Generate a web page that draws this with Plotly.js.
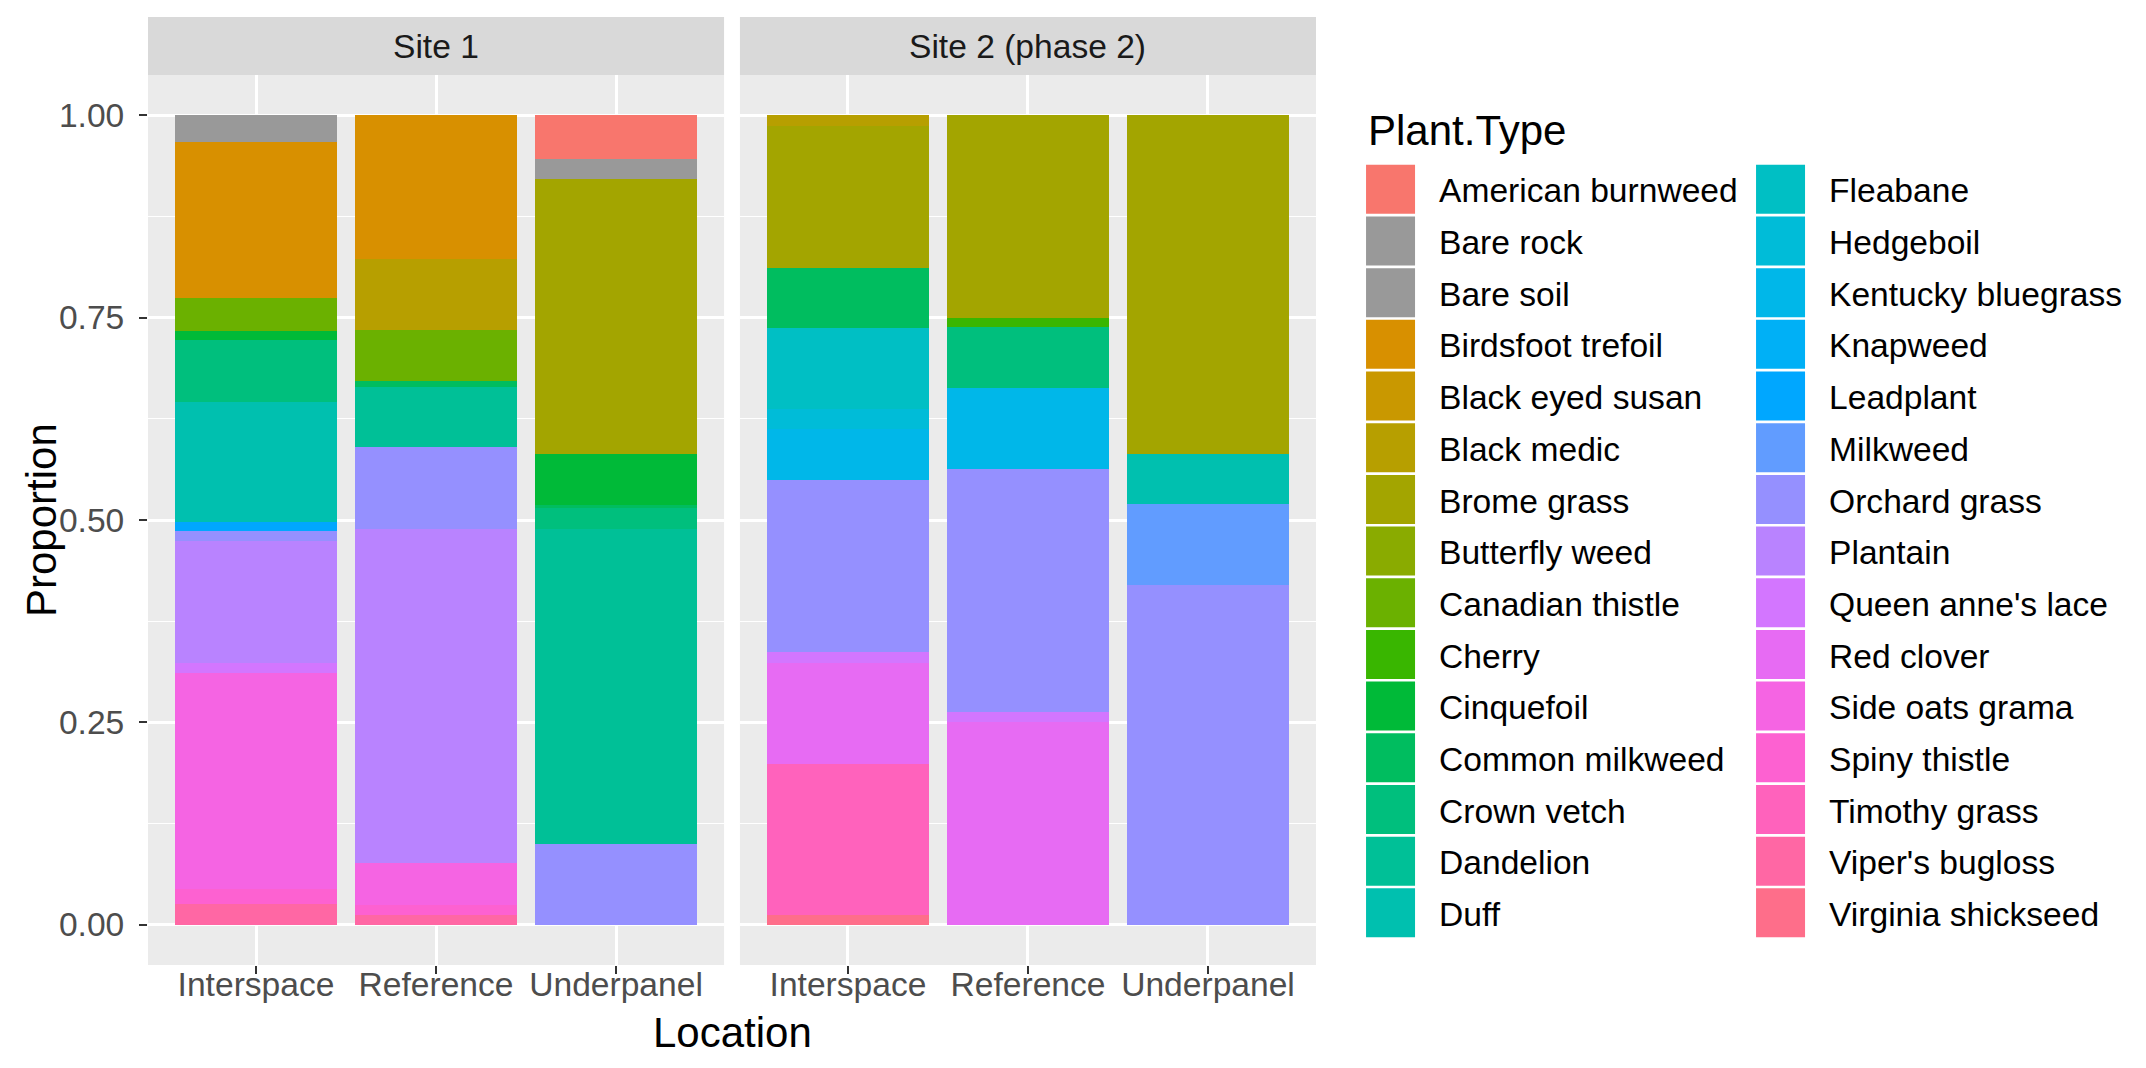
<!DOCTYPE html>
<html>
<head>
<meta charset="utf-8">
<script src="https://cdn.plot.ly/plotly-3.0.1.min.js"></script>
<style>
  html, body { margin: 0; padding: 0; background: #ffffff; }
  #chart { width: 2146px; height: 1068px; }
</style>
</head>
<body>
<div id="chart"></div>
<script>
// Plant types in legend order (first level is stacked on top)
const plantTypes = [
  'American burnweed', 'Bare rock', 'Bare soil', 'Birdsfoot trefoil', 'Black eyed susan',
  'Black medic', 'Brome grass', 'Butterfly weed', 'Canadian thistle', 'Cherry',
  'Cinquefoil', 'Common milkweed', 'Crown vetch', 'Dandelion', 'Duff',
  'Fleabane', 'Hedgeboil', 'Kentucky bluegrass', 'Knapweed', 'Leadplant',
  'Milkweed', 'Orchard grass', 'Plantain', "Queen anne's lace", 'Red clover',
  'Side oats grama', 'Spiny thistle', 'Timothy grass', "Viper's bugloss", 'Virginia shickseed'
];
const locations = ['Interspace', 'Reference', 'Underpanel'];
const sites = ['Site 1', 'Site 2 (phase 2)'];
const yTickVals = [0, 0.25, 0.5, 0.75, 1];
const yTickText = ['0.00', '0.25', '0.50', '0.75', '1.00'];
const greyTypes = ['Bare rock', 'Bare soil'];

// Proportion of each plant type (same order as plantTypes)
const site1Interspace = [0, 0.023, 0.010, 0.192, 0, 0, 0, 0, 0.042, 0,
  0.011, 0, 0.076, 0, 0.148, 0, 0, 0, 0, 0.012,
  0, 0.012, 0.151, 0.012, 0, 0.267, 0.019, 0, 0.025, 0];
const site1Reference = [0, 0, 0, 0.177, 0, 0.088, 0, 0, 0.063, 0,
  0, 0.008, 0, 0.074, 0, 0, 0, 0, 0, 0,
  0, 0.101, 0.413, 0, 0, 0.052, 0.012, 0, 0.012, 0];
const site1Underpanel = [0.054, 0, 0.025, 0, 0, 0, 0.340, 0, 0, 0,
  0.062, 0.004, 0.026, 0.389, 0, 0, 0, 0, 0, 0,
  0, 0.100, 0, 0, 0, 0, 0, 0, 0, 0];
const site2Interspace = [0, 0, 0, 0, 0, 0.013, 0.175, 0, 0, 0,
  0, 0.075, 0, 0, 0, 0.100, 0.025, 0.062, 0, 0,
  0, 0.213, 0, 0.014, 0.124, 0, 0, 0.187, 0, 0.012];
const site2Reference = [0, 0, 0, 0, 0, 0, 0.250, 0, 0, 0.012,
  0, 0, 0.075, 0, 0, 0, 0, 0.100, 0, 0,
  0, 0.300, 0, 0.013, 0.250, 0, 0, 0, 0, 0];
const site2Underpanel = [0, 0, 0, 0, 0, 0, 0.418, 0, 0, 0,
  0, 0, 0, 0, 0.062, 0, 0, 0, 0, 0,
  0.100, 0.420, 0, 0, 0, 0, 0, 0, 0, 0];

// ggplot2-style evenly spaced HCL hues (l = 65, c = 100)
function hclToHex(h, c, l) {
  const hr = h * Math.PI / 180;
  const U = c * Math.cos(hr), V = c * Math.sin(hr);
  const Y = 100 * (l > 7.999592 ? Math.pow((l + 16) / 116, 3) : l / 903.3);
  const u = U / (13 * l) + 0.1978398;
  const v = V / (13 * l) + 0.4683363;
  const X = 9 * Y * u / (4 * v);
  const Z = -X / 3 - 5 * Y + 3 * Y / v;
  const g = x => (x > 0.00304 ? 1.055 * Math.pow(x, 1 / 2.4) - 0.055 : 12.92 * x);
  const rgb = [
    g((3.240479 * X - 1.537150 * Y - 0.498535 * Z) / 100),
    g((-0.969256 * X + 1.875992 * Y + 0.041556 * Z) / 100),
    g((0.055648 * X - 0.204043 * Y + 1.057311 * Z) / 100)
  ];
  return '#' + rgb.map(x => {
    const k = Math.round(255 * Math.min(1, Math.max(0, x)));
    return k.toString(16).padStart(2, '0');
  }).join('');
}
const n = plantTypes.length;
const plantColors = plantTypes.map((name, i) =>
  greyTypes.includes(name) ? '#999999' : hclToHex(15 + 360 * i / n, 100, 65));

const siteValues = [
  [site1Interspace, site1Reference, site1Underpanel],
  [site2Interspace, site2Reference, site2Underpanel]
];

// Stack bottom-up: the last plant type is drawn first
const traces = [];
for (let i = n - 1; i >= 0; i--) {
  siteValues.forEach((bars, s) => {
    traces.push({
      type: 'bar',
      name: plantTypes[i],
      x: locations,
      y: bars.map(b => b[i]),
      xaxis: s === 0 ? 'x' : 'x2',
      yaxis: s === 0 ? 'y' : 'y2',
      marker: { color: plantColors[i], line: { width: 0 } },
      legendgroup: plantTypes[i],
      legend: i < 15 ? 'legend' : 'legend2',
      legendrank: i + 1,
      showlegend: s === 0,
      hoverinfo: 'name+y'
    });
  });
}

const tickFont = { family: 'Liberation Sans, Arial, sans-serif', size: 33.6, color: '#4D4D4D' };
const titleFont = { family: 'Liberation Sans, Arial, sans-serif', size: 42, color: '#000000' };

const xAxisBase = {
  type: 'category',
  categoryorder: 'array',
  categoryarray: locations,
  range: [-0.6, 2.6],
  showgrid: true, gridcolor: '#FFFFFF', gridwidth: 2.5,
  zeroline: false, showline: false,
  ticks: 'outside', ticklen: 8, tickwidth: 2.2, tickcolor: '#333333',
  ticklabelstandoff: -18,
  tickfont: tickFont,
  fixedrange: true
};
const yAxisBase = {
  range: [-0.05, 1.05],
  tickmode: 'array', tickvals: yTickVals, ticktext: yTickText,
  showgrid: true, gridcolor: '#FFFFFF', gridwidth: 2.5,
  minor: { tick0: 0, dtick: 0.125, showgrid: true, gridcolor: '#FFFFFF', gridwidth: 1.2, ticks: '' },
  zeroline: false, showline: false,
  tickfont: tickFont,
  fixedrange: true
};

const stripH = 58 / 890;
const shapes = [];
const annotations = [];
['x', 'x2'].forEach((ax, s) => {
  shapes.push({
    type: 'rect', xref: ax + ' domain', yref: 'paper',
    x0: 0, x1: 1, y0: 1, y1: 1 + stripH,
    fillcolor: '#D9D9D9', line: { width: 0 }, layer: 'below'
  });
  annotations.push({
    xref: ax + ' domain', yref: 'paper', x: 0.5, y: 1 + stripH / 2,
    xanchor: 'center', yanchor: 'middle', showarrow: false,
    text: sites[s],
    font: { family: 'Liberation Sans, Arial, sans-serif', size: 33.6, color: '#1A1A1A' }
  });
});
annotations.push({
  xref: 'paper', yref: 'paper', x: 0.5, y: -0.0764, xanchor: 'center', yanchor: 'middle',
  showarrow: false, text: 'Location', font: titleFont
});
annotations.push({
  xref: 'paper', yref: 'paper', x: -0.0916, y: 0.5, xanchor: 'center', yanchor: 'middle',
  showarrow: false, text: 'Proportion', textangle: -90, font: titleFont
});
annotations.push({
  xref: 'paper', yref: 'paper', x: 1.0428, y: 0.9382, xanchor: 'left', yanchor: 'middle',
  showarrow: false, text: 'Plant.Type', font: titleFont
});

const legendBase = {
  xanchor: 'left', yanchor: 'top', y: 0.9034,
  orientation: 'v',
  font: { family: 'Liberation Sans, Arial, sans-serif', size: 33.6, color: '#000000' },
  bgcolor: 'rgba(0,0,0,0)', borderwidth: 0,
  itemwidth: 87, tracegroupgap: 5,
  itemclick: false, itemdoubleclick: false
};

const layout = {
  width: 2146, height: 1068,
  margin: { l: 148, r: 830, t: 75, b: 103 },
  paper_bgcolor: '#FFFFFF',
  plot_bgcolor: '#EBEBEB',
  barmode: 'stack',
  bargap: 0.1,
  font: { family: 'Liberation Sans, Arial, sans-serif' },
  xaxis: Object.assign({}, xAxisBase, { domain: [0, 0.4932], anchor: 'y' }),
  xaxis2: Object.assign({}, xAxisBase, { domain: [0.5068, 1], anchor: 'y2' }),
  yaxis: Object.assign({}, yAxisBase, {
    anchor: 'x', ticks: 'outside', ticklen: 8, tickwidth: 2.2, tickcolor: '#333333',
    ticklabelstandoff: 8
  }),
  yaxis2: Object.assign({}, yAxisBase, { anchor: 'x2', matches: 'y', showticklabels: false, ticks: '' }),
  legend: Object.assign({}, legendBase, { x: 1.0223 }),
  legend2: Object.assign({}, legendBase, { x: 1.3562 }),
  shapes: shapes,
  annotations: annotations,
  showlegend: true
};

Plotly.newPlot('chart', traces, layout, { displayModeBar: false, responsive: false }).then(gd => {
  // square legend keys, as tall as one legend row
  gd.querySelectorAll('.legendpoints path').forEach(p => {
    p.setAttribute('d', 'M24.5,24.5H-24.5V-24.5H24.5Z');
  });
});
</script>
</body>
</html>
